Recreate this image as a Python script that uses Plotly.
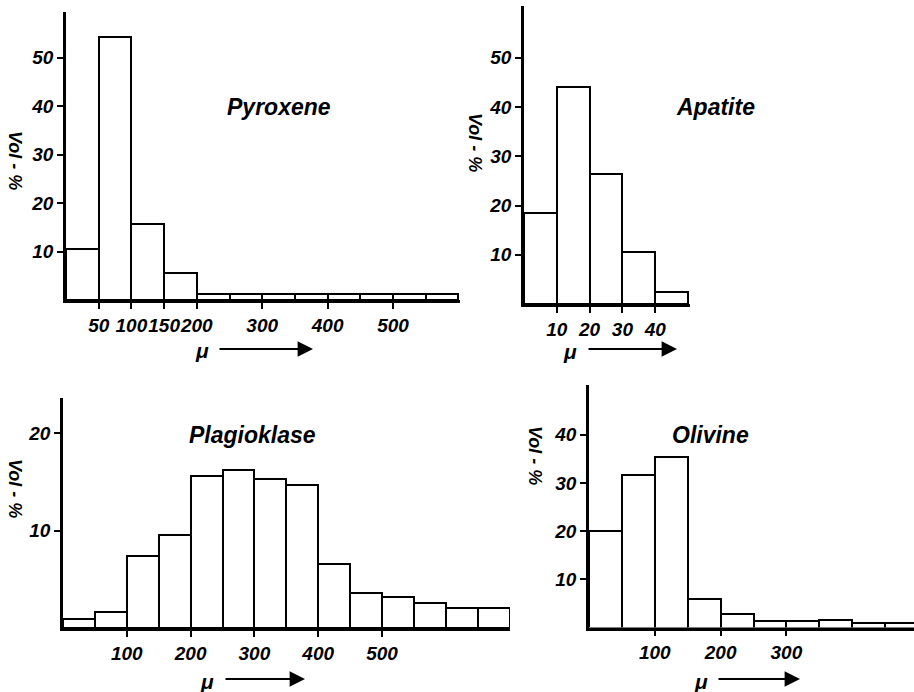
import plotly.graph_objects as go

W, H = 914, 692

# ---------------- data ----------------
pyr_edges = [0, 50, 100, 150, 200, 250, 300, 350, 400, 450, 500, 550, 600]
pyr_vals = [10.5, 54.3, 15.7, 5.5, 1.2, 1.2, 1.2, 1.2, 1.2, 1.2, 1.2, 1.2]
pyr_xticks = [50, 100, 150, 200, 300, 400, 500]
pyr_yticks = [10, 20, 30, 40, 50]

apa_edges = [0, 10, 20, 30, 40, 50]
apa_vals = [18.4, 44.0, 26.3, 10.5, 2.5]
apa_xticks = [10, 20, 30, 40]
apa_yticks = [10, 20, 30, 40, 50]

pla_edges = [0, 50, 100, 150, 200, 250, 300, 350, 400, 450, 500, 550, 600, 650, 700]
pla_vals = [0.9, 1.6, 7.4, 9.6, 15.6, 16.2, 15.3, 14.7, 6.6, 3.6, 3.2, 2.6, 2.1, 2.1]
pla_xticks = [100, 200, 300, 400, 500]
pla_yticks = [10, 20]

oli_edges = [0, 50, 100, 150, 200, 250, 300, 350, 400, 450, 500]
oli_vals = [20.0, 31.6, 35.4, 6.0, 2.9, 1.4, 1.4, 1.5, 0.9, 0.9]
oli_xticks = [100, 200, 300]
oli_yticks = [10, 20, 30, 40]

names = ["Pyroxene", "Apatite", "Plagioklase", "Olivine"]
ytitle = "Vol - %"
xtitle = "μ"

# ---------------- layout geometry (pixels) ----------------
# left px of x=0, px per x unit, right px, y px of 0, px per y unit, top px
geom = [
    dict(x0=66, sx=0.654, right=460, y0=300, sy=4.85, top=12),
    dict(x0=524, sx=3.28, right=690, y0=304, sy=4.925, top=6),
    dict(x0=63, sx=0.638, right=510, y0=628, sy=9.74, top=398),
    dict(x0=589, sx=0.658, right=914, y0=627.5, sy=4.82, top=385),
]
title_pos = [(279, 107), (715, 107), (252, 435), (710, 435)]
ytitle_pos = [(15, 160), (475, 142), (15, 488), (535, 455)]
mu_pos = [(202, 350), (570, 351), (207, 681), (701, 681)]
arrow_pos = [(218, 313, 349), (587, 677, 349), (224, 305, 679), (717, 800, 679)]

FONT = "Liberation Sans"


def px(x):
    return x / W


def py(y):
    return 1 - y / H


panels = [
    (pyr_edges, pyr_vals, pyr_xticks, pyr_yticks),
    (apa_edges, apa_vals, apa_xticks, apa_yticks),
    (pla_edges, pla_vals, pla_xticks, pla_yticks),
    (oli_edges, oli_vals, oli_xticks, oli_yticks),
]

fig = go.Figure()
layout = {}
annotations = []

for i, ((edges, vals, xt, yt), g) in enumerate(zip(panels, geom)):
    n = "" if i == 0 else str(i + 1)
    centers = [(a + b) / 2 for a, b in zip(edges[:-1], edges[1:])]
    widths = [b - a for a, b in zip(edges[:-1], edges[1:])]
    fig.add_trace(go.Bar(
        x=centers, y=vals, width=widths,
        marker=dict(color="white", line=dict(color="black", width=2)),
        xaxis="x" + n, yaxis="y" + n, showlegend=False, hoverinfo="skip",
    ))
    xmax = (g["right"] - g["x0"]) / g["sx"]
    ymax = (g["y0"] - g["top"]) / g["sy"]
    tickfont = dict(family=FONT, size=19, color="black", style="italic", weight="bold")
    layout["xaxis" + n] = dict(
        domain=[px(g["x0"]), px(g["right"])], range=[0, xmax], anchor="y" + n,
        tickvals=xt, ticktext=[str(v) for v in xt], tickangle=0,
        showline=True, linecolor="black", linewidth=2.5, ticks="outside",
        ticklen=6, tickwidth=2, tickcolor="black", showgrid=False, zeroline=False,
        tickfont=tickfont, fixedrange=True,
    )
    layout["yaxis" + n] = dict(
        domain=[py(g["y0"]), py(g["top"])], range=[0, ymax], anchor="x" + n,
        tickvals=yt, ticktext=[str(v) for v in yt],
        showline=True, linecolor="black", linewidth=2.5, ticks="outside",
        ticklen=6, tickwidth=2, tickcolor="black", showgrid=False, zeroline=False,
        tickfont=tickfont, fixedrange=True,
    )
    tx, ty = title_pos[i]
    annotations.append(dict(
        x=px(tx), y=py(ty), xref="paper", yref="paper", text=names[i], showarrow=False,
        xanchor="center", yanchor="middle",
        font=dict(family=FONT, size=23, color="black", style="italic", weight="bold"),
    ))
    yx, yy = ytitle_pos[i]
    annotations.append(dict(
        x=px(yx), y=py(yy), xref="paper", yref="paper", text=ytitle, showarrow=False,
        xanchor="center", yanchor="middle", textangle=90,
        font=dict(family=FONT, size=18, color="black", style="italic", weight="bold"),
    ))
    mx, my = mu_pos[i]
    annotations.append(dict(
        x=px(mx), y=py(my), xref="paper", yref="paper", text=xtitle, showarrow=False,
        xanchor="center", yanchor="middle",
        font=dict(family=FONT, size=21, color="black", style="italic", weight="bold"),
    ))
    a0, a1, ay = arrow_pos[i]
    annotations.append(dict(
        x=px(a1), y=py(ay), xref="paper", yref="paper", text="", showarrow=True,
        ax=a0 - a1, ay=0, arrowhead=2, arrowsize=1.4, arrowwidth=2.2,
        arrowcolor="black", standoff=0,
    ))

fig.update_layout(
    width=W, height=H,
    margin=dict(l=0, r=0, t=0, b=0),
    paper_bgcolor="white", plot_bgcolor="white",
    bargap=0, annotations=annotations, **layout,
)

fig.write_html("out.html", include_plotlyjs=True, config={"displayModeBar": False})
